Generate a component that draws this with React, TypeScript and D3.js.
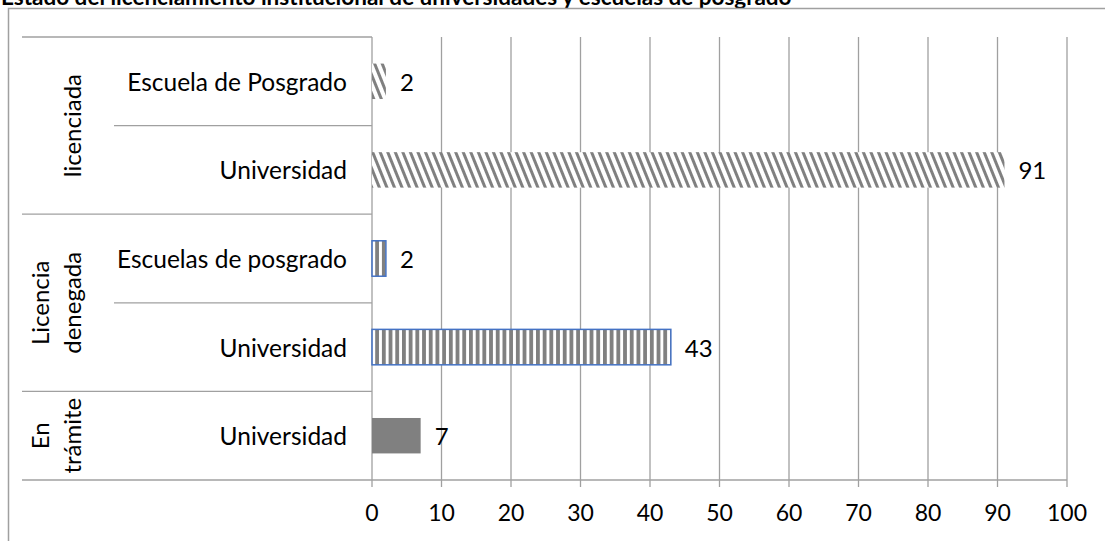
import React from "react";
import * as d3 from "d3";

const title = "Estado del licenciamiento institucional de universidades y escuelas de posgrado";
const categoryLabels = ["Escuela de Posgrado", "Universidad", "Escuelas de posgrado", "Universidad", "Universidad"];
const categoryGroups = ["licenciada", "licenciada", "Licencia denegada", "Licencia denegada", "En trámite"];
const values = [2, 91, 2, 43, 7];
const groupNames = ["licenciada", "Licencia denegada", "En trámite"];
const groupLines = [["licenciada"], ["Licencia", "denegada"], ["En", "trámite"]];
const tickValues = [0, 10, 20, 30, 40, 50, 60, 70, 80, 90, 100];

const W = 1105;
const H = 541;
const FONT = "Lato, 'Open Sans', sans-serif";

export default function App() {
  const x = d3.scaleLinear().domain([0, 100]).range([372, 1067]);
  const y = d3
    .scaleBand<number>()
    .domain(d3.range(values.length))
    .range([37, 480])
    .paddingInner(0.6)
    .paddingOuter(0.3);
  const step = y.step();
  const top = 37;
  const bottom = 480;
  const rowTop = (i: number) => top + i * step;

  const fillFor = (g: string) =>
    g === "licenciada" ? "url(#diag)" : g === "Licencia denegada" ? "url(#vert)" : "#808080";
  const strokeFor = (g: string) => (g === "Licencia denegada" ? "#4472C4" : "none");

  const groupInfo = groupNames.map((g, gi) => {
    const idx = categoryGroups.map((c, i) => (c === g ? i : -1)).filter((i) => i >= 0);
    const first = d3.min(idx)!;
    const last = d3.max(idx)!;
    return { g, gi, first, last, y0: rowTop(first), y1: rowTop(last + 1) };
  });

  return (
    <div style={{ position: "absolute", left: 0, top: 0 }}>
      <svg width={W} height={H} style={{ display: "block", background: "#fff" }}>
        <defs>
          <pattern id="diag" patternUnits="userSpaceOnUse" width={7} height={20} patternTransform="rotate(-22)">
            <rect x={0} y={0} width={7} height={20} fill="#fff" />
            <rect x={0} y={0} width={3} height={20} fill="#808080" />
          </pattern>
          <pattern id="vert" patternUnits="userSpaceOnUse" width={6.7} height={10}>
            <rect x={0} y={0} width={6.7} height={10} fill="#fff" />
            <rect x={0} y={0} width={3.8} height={10} fill="#808080" />
          </pattern>
        </defs>

        {/* title (cut off at top, as in the reference) */}
        <text x={1} y={4.5} fontFamily={FONT} fontWeight="bold" fontSize={22.5} fill="#000">
          {title}
        </text>

        {/* outer chart border */}
        <rect x={8.5} y={8.5} width={W + 20} height={H + 20} fill="none" stroke="#a0a0a0" strokeWidth={1.5} />

        {/* vertical gridlines and ticks */}
        {tickValues.map((t) => (
          <line key={"g" + t} x1={x(t)} x2={x(t)} y1={top} y2={bottom + 7} stroke="#a0a0a0" strokeWidth={1.3} />
        ))}

        {/* category separators */}
        {d3.range(values.length + 1).map((i) => {
          const isGroupEdge =
            i === 0 || i === values.length || categoryGroups[i] !== categoryGroups[i - 1];
          return (
            <line
              key={"s" + i}
              x1={isGroupEdge ? 22 : 114}
              x2={i === values.length ? x(100) : x(0)}
              y1={rowTop(i)}
              y2={rowTop(i)}
              stroke="#a0a0a0"
              strokeWidth={1.3}
            />
          );
        })}

        {/* bars */}
        {values.map((v, i) => (
          <rect
            key={"b" + i}
            x={x(0)}
            y={y(i)!}
            width={x(v) - x(0)}
            height={y.bandwidth()}
            fill={fillFor(categoryGroups[i])}
            stroke={strokeFor(categoryGroups[i])}
            strokeWidth={1.5}
          />
        ))}

        {/* value labels */}
        {values.map((v, i) => (
          <text
            key={"v" + i}
            x={x(v) + 14}
            y={y(i)! + y.bandwidth() / 2}
            dominantBaseline="central"
            fontFamily={FONT}
            fontSize={24}
            fill="#000"
          >
            {v}
          </text>
        ))}

        {/* category labels */}
        {categoryLabels.map((c, i) => (
          <text
            key={"c" + i}
            x={347}
            y={y(i)! + y.bandwidth() / 2}
            textAnchor="end"
            dominantBaseline="central"
            fontFamily={FONT}
            fontSize={24.5}
            fill="#000"
          >
            {c}
          </text>
        ))}

        {/* group labels (rotated) */}
        {groupInfo.map((gi) => {
          const lines = groupLines[gi.gi];
          const cy = (gi.y0 + gi.y1) / 2;
          const baselines = lines.length === 1 ? [81] : [49, 81];
          return lines.map((ln, li) => (
            <text
              key={"gl" + gi.gi + li}
              transform={`translate(${baselines[li]},${cy}) rotate(-90)`}
              textAnchor="middle"
              fontFamily={FONT}
              fontSize={24}
              fill="#000"
            >
              {ln}
            </text>
          ));
        })}

        {/* x tick labels */}
        {tickValues.map((t) => (
          <text
            key={"t" + t}
            x={x(t)}
            y={512}
            textAnchor="middle"
            dominantBaseline="central"
            fontFamily={FONT}
            fontSize={23}
            fill="#000"
          >
            {t}
          </text>
        ))}
      </svg>
    </div>
  );
}
